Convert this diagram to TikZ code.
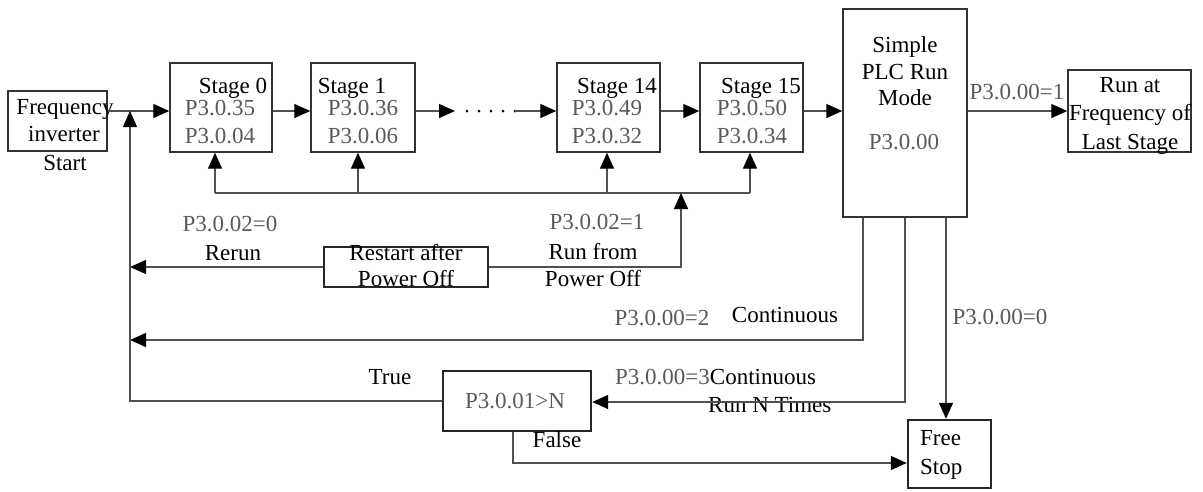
\documentclass[tikz,border=0pt]{standalone}
\usepackage{fontspec}
\setmainfont{Liberation Serif}
\usetikzlibrary{arrows.meta,calc}
\definecolor{ln}{HTML}{505050}
\definecolor{bx}{HTML}{333333}
\definecolor{pm}{HTML}{5A5A5A}
\tikzset{
  box/.style={draw=bx, line width=1.4pt, inner sep=0pt},
  thickbox/.style={draw=black!85, line width=2.4pt, inner sep=0pt},
  lbl/.style={inner sep=0pt, text height=16pt, text depth=2pt, font=\fontsize{23}{28}\selectfont},
  par/.style={lbl, text=pm},
  wire/.style={draw=ln, line width=1.3pt},
  arr/.style={wire, -{Triangle[length=16pt,width=14pt,color=black]}},
}
\begin{document}
\begin{tikzpicture}[x=1pt,y=-1pt]
\useasboundingbox (0,0) rectangle (1203,491);
% boxes
\node[box, minimum width=99pt, minimum height=60pt] (fis) at (57.5,121) {};
\node[box, minimum width=102pt, minimum height=89pt] (s0) at (221,107.5) {};
\node[box, minimum width=104pt, minimum height=89pt] (s1) at (363,107.5) {};
\node[box, minimum width=103pt, minimum height=89pt] (s14) at (608.5,107.5) {};
\node[box, minimum width=103pt, minimum height=89pt] (s15) at (751.5,107.5) {};
\node[box, minimum width=124pt, minimum height=208pt] (plc) at (905,113) {};
\node[box, minimum width=123pt, minimum height=82pt] (run) at (1129.5,111) {};
\node[draw=black!85, line width=2pt, inner sep=0pt, minimum width=164pt, minimum height=40pt] (rst) at (406,267) {};
\node[thickbox, minimum width=148pt, minimum height=60pt] (chk) at (517,401) {};
\node[thickbox, minimum width=83pt, minimum height=68pt] (fs) at (949.5,454) {};
% texts in boxes
\node[lbl] (t1) at (65,107) {Frequency};
\node[lbl] (t2) at (64,134) {inverter};
\node[lbl] (t3) at (65,163) {Start};
\node[lbl] (s0a) at (233,86) {Stage 0};
\node[par] (s0b) at (220,108) {P3.0.35};
\node[par] (s0c) at (220,136) {P3.0.04};
\node[lbl] (s1a) at (352,86) {Stage 1};
\node[par] (s1b) at (363,108) {P3.0.36};
\node[par] (s1c) at (363,136) {P3.0.06};
\node[lbl] (s14a) at (617,86) {Stage 14};
\node[par] (s14b) at (607,108) {P3.0.49};
\node[par] (s14c) at (607,136) {P3.0.32};
\node[lbl] (s15a) at (761,86) {Stage 15};
\node[par] (s15b) at (752,108) {P3.0.50};
\node[par] (s15c) at (752,136) {P3.0.34};
\node[lbl] (p1) at (905,45) {Simple};
\node[lbl] (p2) at (905,72) {PLC Run};
\node[lbl] (p3) at (905,98) {Mode};
\node[par] (p4) at (904,142) {P3.0.00};
\node[lbl] (r1) at (1130,85) {Run at};
\node[lbl] (r2) at (1130,113) {Frequency of};
\node[lbl] (r3) at (1130,142) {Last Stage};
\node[lbl] (rs1) at (406,253) {Restart after};
\node[lbl] (rs2) at (406,279) {Power Off};
\node[par] (ck) at (515,401) {P3.0.01>N};
\node[lbl, anchor=west] (fs1) at (920,438) {Free};
\node[lbl, anchor=west] (fs2) at (920,467) {Stop};
% labels
\node[par] (l1) at (1017,92) {P3.0.00=1};
\node[par] (l2) at (230,224) {P3.0.02=0};
\node[lbl] (l3) at (233,253) {Rerun};
\node[par] (l4) at (597,222) {P3.0.02=1};
\node[lbl] (l5) at (593,252) {Run from};
\node[lbl] (l6) at (593,279) {Power Off};
\node[par] (l7) at (662,318) {P3.0.00=2};
\node[lbl] (l8) at (785,315) {Continuous};
\node[lbl] (l9) at (390,377) {True};
\node[lbl] (l10) at (557,440) {False};
\node[lbl, anchor=west] (l11) at (615,377) {\textcolor{pm}{P3.0.00=3}Continuous};
\node[lbl, anchor=west] (l12) at (708,405) {Run N Times};
\node[par] (l13) at (1000,317) {P3.0.00=0};
% coordinates
\coordinate (j) at (130,111);
\coordinate (d1) at (455,111);
\coordinate (d1b) at (467,111);
\coordinate (d2) at (515,111);
\coordinate (a0) at (215,193);
\coordinate (a1) at (358,193);
\coordinate (a14) at (607,193);
\coordinate (a15) at (750,193);
\coordinate (up) at (681,193);
\coordinate (rr) at (681,267);
\coordinate (rl) at (130,267);
\coordinate (c1) at (863,340);
\coordinate (cl) at (130,340);
\coordinate (n1) at (905,402);
\coordinate (tl) at (130,401);
\coordinate (f1) at (513,463);
\coordinate (sx) at (946,217);
% main chain
\draw[arr] (j -| fis.east) -- (s0.west |- j);
\draw[arr] (s0.east |- j) -- (s1.west |- j);
\draw[arr] (s1.east |- j) -- (d1);
\draw[black, line width=3pt, dash pattern=on 0pt off 12pt, line cap=round] (d1b) -- (d2);
\draw[arr] (d2) -- (s14.west |- j);
\draw[arr] (s14.east |- j) -- (s15.west |- j);
\draw[arr] (s15.east |- j) -- (plc.west |- j);
\draw[arr] (plc.east |- run) -- (run.west);
% feedback to stages
\draw[wire] (a0) -- (a15);
\draw[arr] (a0) -- (a0 |- s0.south);
\draw[arr] (a1) -- (a1 |- s1.south);
\draw[arr] (a14) -- (a14 |- s14.south);
\draw[arr] (a15) -- (a15 |- s15.south);
% restart after power off
\draw[arr] (rst.east |- rr) -- (rr) -- (up);
\draw[arr] (rst.west) -- (rl);
% continuous
\draw[arr] (plc.south -| c1) -- (c1) -- (cl);
% run N times
\draw[arr] (plc.south -| n1) -- (n1) -- (chk.east |- n1);
% stop
\draw[arr] (sx) -- (sx |- fs.north);
% true back to start
\draw[arr] (chk.west |- tl) -- (tl) -- (j);
% false to free stop
\draw[arr] (chk.south -| f1) -- (f1) -- (fs.west |- f1);
\end{tikzpicture}
\end{document}
